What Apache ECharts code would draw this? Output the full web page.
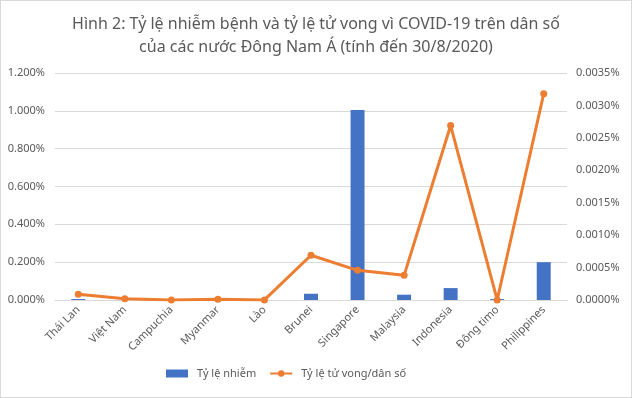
<!DOCTYPE html>
<html lang="vi">
<head>
<meta charset="UTF-8">
<title>COVID-19 Đông Nam Á</title>
<script src="https://cdn.jsdelivr.net/npm/echarts@6/dist/echarts.min.js"></script>
<style>
  html, body { margin: 0; padding: 0; background: #fff; }
  #chart { width: 632px; height: 398px; box-sizing: border-box; border: 1px solid #d9d9d9; }
</style>
</head>
<body>
<div id="chart"></div>
<script>
// dữ liệu (đơn vị: %)
var countries = ['Thái Lan', 'Việt Nam', 'Campuchia', 'Myanmar', 'Lào', 'Brunei', 'Singapore', 'Malaysia', 'Indonesia', 'Đông timo', 'Philippines'];
var infectionRate = [0.005, 0.001, 0.002, 0.0015, 0.0003, 0.033, 1.005, 0.028, 0.063, 0.005, 0.2];
var deathRate = [0.000087, 0.00002, 0.000001, 0.00001, 0.000001, 0.00069, 0.000457, 0.00038, 0.00269, 0.0000005, 0.00318];

var chart = echarts.init(document.getElementById('chart'));
var font = 'Noto Sans';
var grey = '#595959';

var option = {
  animation: false,
  title: {
    text: 'Hình 2: Tỷ lệ nhiễm bệnh và tỷ lệ tử vong vì COVID-19 trên dân số\ncủa các nước Đông Nam Á (tính đến 30/8/2020)',
    left: 'center',
    top: 7,
    textStyle: { fontFamily: font, fontSize: 16, fontWeight: 'normal', color: grey, lineHeight: 23 }
  },
  legend: {
    left: 160,
    bottom: 13,
    itemGap: 13,
    itemWidth: 22,
    itemHeight: 8,
    textStyle: { fontFamily: font, fontSize: 11, color: grey, padding: [0, 0, 0, 4] },
    data: [
      { name: 'Tỷ lệ nhiễm', icon: 'rect' },
      { name: 'Tỷ lệ tử vong/dân số' }
    ]
  },
  grid: { left: 54, right: 64, top: 72, bottom: 97 },
  xAxis: {
    type: 'category',
    data: countries,
    axisTick: { show: false },
    axisLine: { lineStyle: { color: '#d9d9d9' } },
    axisLabel: { rotate: 45, interval: 0, fontFamily: font, fontSize: 11, color: grey, margin: 8 }
  },
  yAxis: [
    {
      type: 'value',
      min: 0,
      max: 1.2,
      interval: 0.2,
      axisLabel: {
        fontFamily: font, fontSize: 11, color: grey, margin: 10,
        formatter: function (v) { return v.toFixed(3) + '%'; }
      },
      splitLine: { lineStyle: { color: '#d9d9d9' } }
    },
    {
      type: 'value',
      min: 0,
      max: 0.0035,
      interval: 0.0005,
      axisLabel: {
        fontFamily: font, fontSize: 11, color: grey, margin: 9,
        formatter: function (v) { return v.toFixed(4) + '%'; }
      },
      splitLine: { show: false }
    }
  ],
  series: [
    {
      name: 'Tỷ lệ nhiễm',
      type: 'bar',
      data: infectionRate,
      barWidth: '30%',
      itemStyle: { color: '#4472C4' }
    },
    {
      name: 'Tỷ lệ tử vong/dân số',
      type: 'line',
      yAxisIndex: 1,
      data: deathRate,
      symbol: 'circle',
      symbolSize: 7,
      lineStyle: { width: 3, color: '#ED7D31' },
      itemStyle: { color: '#ED7D31' }
    }
  ]
};
chart.setOption(option);
</script>
</body>
</html>
